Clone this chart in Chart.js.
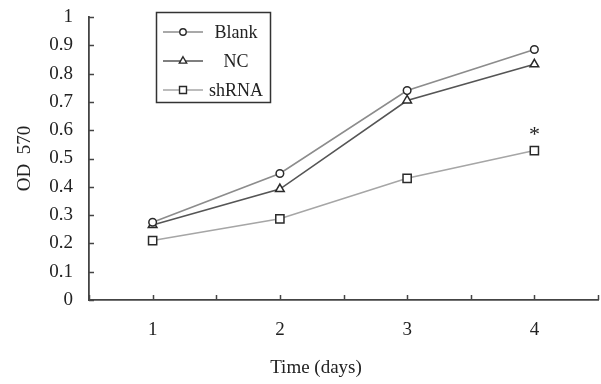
<!DOCTYPE html>
<html>
<head>
<meta charset="utf-8">
<script src="https://cdn.jsdelivr.net/npm/chart.js@4/dist/chart.umd.min.js"></script>
<style>
  html, body { margin: 0; padding: 0; background: #fff; }
  #wrap { width: 601px; height: 384px; }
</style>
</head>
<body>
<div id="wrap"><canvas id="c" width="601" height="384"></canvas></div>
<script>
// ---- data ----
const days = [1, 2, 3, 4];
const xTickLabels = ['1', '2', '3', '4'];
const yTickLabels = ['0', '0.1', '0.2', '0.3', '0.4', '0.5', '0.6', '0.7', '0.8', '0.9', '1'];
const seriesNames = ['Blank', 'NC', 'shRNA'];
const blank = [0.275, 0.447, 0.740, 0.885];
const nc    = [0.265, 0.392, 0.705, 0.833];
const shrna = [0.210, 0.287, 0.430, 0.528];
const significant = ['', '', '', '*'];   // annotation on shRNA
const xTitle = 'Time (days)';
const yTitle = 'OD  570';

const FONT = "'Liberation Serif', 'Times New Roman', serif";

function pts(vals) { return days.map((d, i) => ({ x: d, y: vals[i] })); }

const styles = [
  { line: '#8c8c8c', pointStyle: 'circle',   r: 3.8 },
  { line: '#555555', pointStyle: 'triangle', r: 5.0 },
  { line: '#a6a6a6', pointStyle: 'rect',     r: 5.8 }
];
const allVals = [blank, nc, shrna];

const datasets = allVals.map((v, i) => ({
  label: seriesNames[i],
  data: pts(v),
  borderColor: styles[i].line,
  borderWidth: 1.6,
  pointStyle: styles[i].pointStyle,
  pointRadius: styles[i].r,
  pointBorderColor: '#2a2a2a',
  pointBorderWidth: 1.5,
  pointBackgroundColor: '#fff',
  tension: 0
}));

// inward tick marks
const inTicks = {
  id: 'inTicks',
  afterDraw(chart) {
    const ctx = chart.ctx, xs = chart.scales.x, ys = chart.scales.y;
    const a = chart.chartArea;
    ctx.save();
    ctx.strokeStyle = '#444';
    ctx.lineWidth = 1.5;
    ctx.beginPath();
    xs.ticks.forEach(t => {
      const px = Math.round(xs.getPixelForValue(t.value)) + 0.5;
      ctx.moveTo(px, a.bottom); ctx.lineTo(px, a.bottom - 5);
    });
    ys.ticks.forEach(t => {
      const py = Math.round(ys.getPixelForValue(t.value)) + 0.5;
      ctx.moveTo(a.left, py); ctx.lineTo(a.left + 5, py);
    });
    ctx.stroke();
    // x-axis title (slightly left of centre, as in the original)
    ctx.fillStyle = '#222';
    ctx.font = '19px ' + FONT;
    ctx.textAlign = 'center';
    ctx.textBaseline = 'middle';
    ctx.fillText(xTitle, 316, 368);
    ctx.restore();
  }
};

function drawMarker(ctx, style, r, x, y) {
  ctx.beginPath();
  if (style === 'circle') {
    ctx.arc(x, y, r, 0, Math.PI * 2);
  } else if (style === 'triangle') {
    ctx.moveTo(x, y - r);
    ctx.lineTo(x + r * Math.sin(Math.PI / 3), y + r * 0.5);
    ctx.lineTo(x - r * Math.sin(Math.PI / 3), y + r * 0.5);
    ctx.closePath();
  } else {
    const s = Math.SQRT1_2 * r;
    ctx.rect(x - s, y - s, 2 * s, 2 * s);
  }
  ctx.fill();
  ctx.stroke();
}

// boxed legend inside chart area + significance annotation
const boxLegend = {
  id: 'boxLegend',
  afterDraw(chart) {
    const ctx = chart.ctx;
    ctx.save();
    ctx.strokeStyle = '#333';
    ctx.lineWidth = 1.5;
    ctx.strokeRect(156.5, 12.5, 114, 90);
    const rows = [32, 61, 90];
    chart.data.datasets.forEach((ds, i) => {
      const y = rows[i];
      ctx.strokeStyle = ds.borderColor;
      ctx.lineWidth = 1.6;
      ctx.beginPath();
      ctx.moveTo(163, y); ctx.lineTo(203, y);
      ctx.stroke();
      ctx.strokeStyle = '#2a2a2a';
      ctx.fillStyle = '#fff';
      ctx.lineWidth = 1.4;
      drawMarker(ctx, ds.pointStyle, ds.pointRadius * 0.85, 183, y);
      ctx.fillStyle = '#222';
      ctx.font = '18px ' + FONT;
      ctx.textAlign = 'center';
      ctx.textBaseline = 'middle';
      ctx.fillText(ds.label, 236, y + 1);
    });
    // asterisk above shRNA points
    const meta = chart.getDatasetMeta(2);
    ctx.fillStyle = '#222';
    ctx.font = '22px ' + FONT;
    ctx.textAlign = 'center';
    ctx.textBaseline = 'middle';
    meta.data.forEach((p, i) => {
      if (significant[i]) ctx.fillText(significant[i], p.x, p.y - 15);
    });
    ctx.restore();
  }
};

new Chart(document.getElementById('c'), {
  type: 'line',
  data: { datasets },
  options: {
    responsive: false,
    animation: false,
    layout: { autoPadding: false, padding: { left: 0, right: 3, top: 17, bottom: 0 } },
    plugins: { legend: { display: false }, tooltip: { enabled: false } },
    scales: {
      x: {
        type: 'linear',
        min: 0.5, max: 4.5,
        afterFit(s) { s.height = 84; s.paddingLeft = 0; s.paddingRight = 0; },
        ticks: {
          stepSize: 0.5,
          autoSkip: false,
          maxRotation: 0,
          padding: 19,
          color: '#222',
          font: { family: FONT, size: 19 },
          callback(v) { return Number.isInteger(v) ? xTickLabels[days.indexOf(v)] : ''; }
        },
        grid: { display: true, drawOnChartArea: false, drawTicks: false },
        border: { display: true, color: '#444', width: 1.8 },
        title: { display: false }
      },
      y: {
        min: 0, max: 1,
        afterFit(s) { s.width = 89; s.paddingTop = 0; s.paddingBottom = 0; },
        ticks: {
          stepSize: 0.1,
          autoSkip: false,
          padding: 16,
          color: '#222',
          font: { family: FONT, size: 19 },
          callback(v, i) { return yTickLabels[i]; }
        },
        grid: { display: true, drawOnChartArea: false, drawTicks: false },
        border: { display: true, color: '#444', width: 1.8 },
        title: { display: true, text: yTitle, color: '#222', font: { family: FONT, size: 19 }, padding: { top: 14, bottom: 0 } }
      }
    }
  },
  plugins: [inTicks, boxLegend]
});
</script>
</body>
</html>
